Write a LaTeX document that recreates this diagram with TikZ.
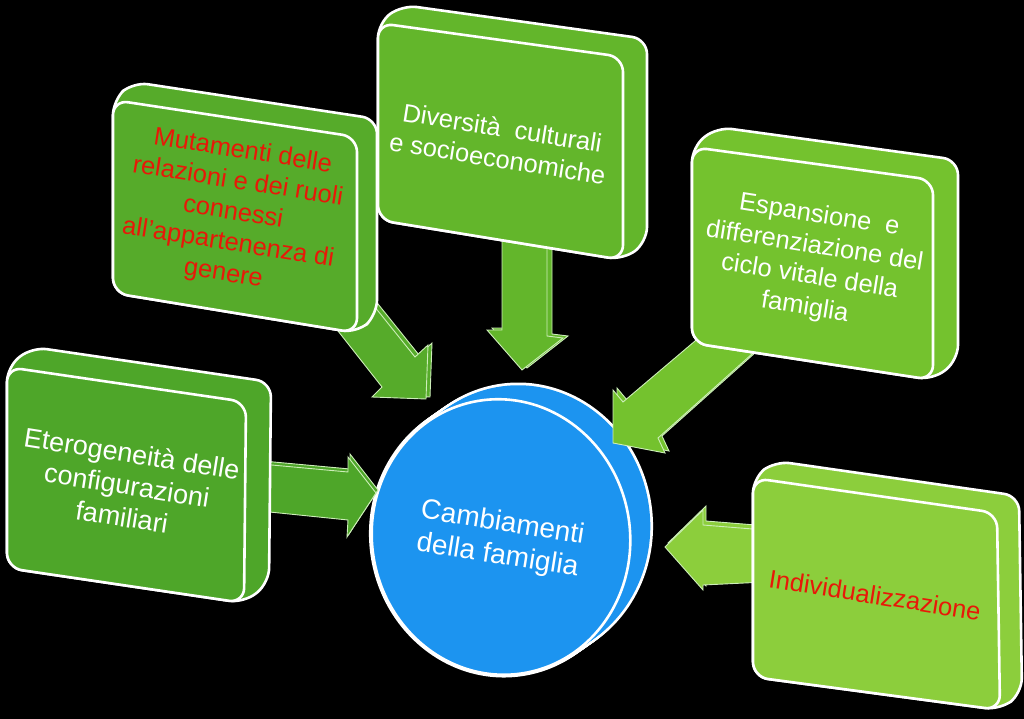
\documentclass[tikz,border=0pt]{standalone}
\usepackage{fontspec}
\setmainfont{Liberation Sans}
\usetikzlibrary{calc}
\definecolor{gA}{RGB}{78,166,41}
\definecolor{gB}{RGB}{86,171,42}
\definecolor{gC}{RGB}{99,182,43}
\definecolor{gD}{RGB}{116,194,46}
\definecolor{gE}{RGB}{140,206,60}
\definecolor{blu}{RGB}{28,148,240}
\definecolor{rtxt}{RGB}{232,24,8}
\definecolor{arrowedge}{RGB}{205,238,185}
\tikzset{
  face/.style={draw=white, line width=2.6pt, rounded corners=15pt, line join=round},
  blockarrow/.style={draw=arrowedge, line width=0.9pt, line join=miter},
  lbl/.style={align=center, rotate=-9, inner sep=0pt, font=\fontsize{25.5}{31}\selectfont},
}
\newcommand\tdbox[6]{%
  \path[face, fill=#1] (#2) -- ($(#2)+(#6)$) -- ($(#3)+(#6)$) -- ($(#4)+(#6)$) -- (#4) -- (#5) -- cycle;
  \path[face, fill=#1] (#2) -- (#3) -- (#4) -- (#5) -- cycle;
}
\newcommand\barrow[3]{%
  \path[blockarrow, fill=#1, shift={(#2)}] #3;
  \path[blockarrow, fill=#1] #3;
}
\begin{document}
\begin{tikzpicture}[x=1pt,y=1pt]
\useasboundingbox (0,0) rectangle (1024,-719);
\fill[black] (0,0) rectangle (1024,-719);

% central disc
\foreach \t in {0,...,10}{
  \draw[white, line width=5.5pt, rotate around={10:(501+2*\t,-537+1.4*\t)}] (501+2*\t,-537+1.4*\t) ellipse[x radius=129pt, y radius=138pt];
}
\foreach \t in {0,...,10}{
  \fill[blu, rotate around={10:(501+2*\t,-537+1.4*\t)}] (501+2*\t,-537+1.4*\t) ellipse[x radius=129pt, y radius=138pt];
}
\draw[white, fill=blu, line width=2.6pt, rotate around={10:(501,-537)}] (501,-537) ellipse[x radius=129pt, y radius=138pt];
\node[lbl, white, font=\fontsize{28}{33}\selectfont] (t0) at (500,-540) {Cambiamenti\\della famiglia};

% block arrows
\barrow{gA}{2,3}{(250,-463) -- (348,-472) -- (348,-457) -- (376,-493) -- (347,-537) -- (348,-520) -- (250,-510) -- cycle}
\barrow{gB}{4,2}{(327,-317) -- (382,-387) -- (372,-397) -- (426,-399) -- (428,-345) -- (415,-357) -- (362,-291) -- cycle}
\barrow{gC}{5,2}{(502,-230) -- (502,-330) -- (487,-330) -- (522,-370) -- (563,-338) -- (547,-336) -- (547,-230) -- cycle}
\barrow{gD}{4,2}{(721,-319) -- (623,-402) -- (613,-390) -- (613,-443) -- (665,-453) -- (658,-438) -- (771,-337) -- cycle}
\barrow{gE}{3,4}{(765,-530) -- (703,-525) -- (703,-510) -- (665,-547) -- (703,-590) -- (703,-585) -- (765,-582) -- cycle}

% boxes
\tdbox{gA}{7,-367}{246,-402}{244,-603}{7,-568}{25,20}
\tdbox{gB}{113,-100}{357,-137}{357,-333}{113,-293}{20,18}
\tdbox{gC}{378,-23}{623,-57}{623,-260}{378,-220}{24,18}
\tdbox{gD}{692,-147}{933,-180}{933,-380}{692,-343}{25,20}
\tdbox{gE}{753,-478}{997,-513}{1000,-710}{753,-677}{22,17}

\node[lbl, white, font=\fontsize{27}{32}\selectfont] (t1) at (127,-485) {Eterogeneità delle\\configurazioni\\familiari};
\node[lbl, rtxt] (t2) at (233,-213) {Mutamenti delle\\relazioni e dei ruoli\\connessi\\all’appartenenza di\\genere};
\node[lbl, white] (t3) at (500,-143) {Diversità\ \ culturali\\e socioeconomiche};
\node[lbl, white] (t4) at (812,-262) {Espansione\ \ e\\differenziazione del\\ciclo vitale della\\famiglia};
\node[lbl, rtxt] (t5) at (875,-595) {Individualizzazione};
\end{tikzpicture}
\end{document}
